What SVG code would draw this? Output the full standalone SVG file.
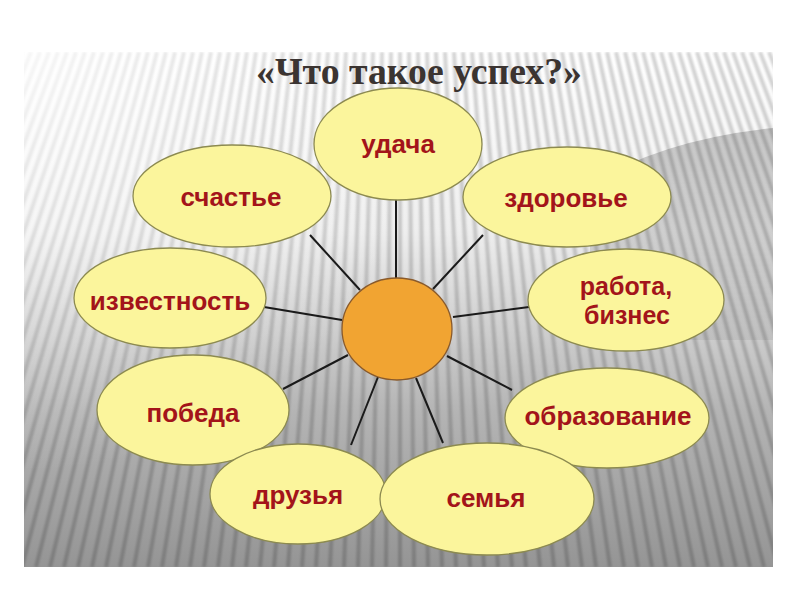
<svg xmlns="http://www.w3.org/2000/svg" width="800" height="600" viewBox="0 0 800 600">
  <defs>
    <style>
      .petal { fill: #FBF59C; stroke: #8C8A50; stroke-width: 1.3; }
      .lbl { font-family: "Liberation Sans", Arial, sans-serif; font-weight: bold; font-size: 26px; fill: #A3141A; text-anchor: middle; }
      .lbl2 { font-size: 25px; }
      .spoke { stroke: #1a1a1a; stroke-width: 2; fill: none; }
      .title { font-family: "Liberation Serif", "Times New Roman", serif; font-weight: bold; font-size: 37px; fill: #3b3431; text-anchor: middle; }
    </style>
    <linearGradient id="bg" x1="0" y1="0" x2="0" y2="1">
      <stop offset="0" stop-color="#ffffff"/>
      <stop offset="0.35" stop-color="#eeeeee"/>
      <stop offset="0.7" stop-color="#b4b4b4"/>
      <stop offset="1" stop-color="#959595"/>
    </linearGradient>
    <radialGradient id="fade" cx="24" cy="52" r="420" gradientUnits="userSpaceOnUse">
      <stop offset="0" stop-color="#ffffff" stop-opacity="0.8"/>
      <stop offset="0.6" stop-color="#ffffff" stop-opacity="0.25"/>
      <stop offset="1" stop-color="#ffffff" stop-opacity="0"/>
    </radialGradient>
    <linearGradient id="shade" x1="0" y1="0" x2="0" y2="1">
      <stop offset="0" stop-color="#000" stop-opacity="0.2"/>
      <stop offset="1" stop-color="#000" stop-opacity="0.06"/>
    </linearGradient>
    <clipPath id="frame"><rect x="24" y="52" width="749" height="515"/></clipPath>
    <filter id="soft" x="-5%" y="-5%" width="110%" height="110%"><feGaussianBlur stdDeviation="1"/></filter>
  </defs>

  <rect width="800" height="600" fill="#ffffff"/>
  <g id="background" clip-path="url(#frame)">
    <rect x="24" y="52" width="749" height="515" fill="url(#bg)"/>
    <path d="M590 340 L590 185 Q660 140 773 128 L773 340 Z" fill="url(#shade)"/>
    <path filter="url(#soft)" stroke="#000" stroke-opacity="0.17" stroke-width="4" fill="none" d="M22 52l-210 515M31 52l-205 515M40 52l-200 515M49 52l-195 515M58 52l-190 515M67 52l-185 515M76 52l-180 515M85 52l-175 515M94 52l-170 515M103 52l-165 515M112 52l-160 515M121 52l-155 515M130 52l-150 515M139 52l-145 515M148 52l-140 515M157 52l-135 515M166 52l-130 515M175 52l-125 515M184 52l-120 515M193 52l-115 515M202 52l-110 515M211 52l-105 515M220 52l-100 515M229 52l-95 515M238 52l-90 515M247 52l-85 515M256 52l-80 515M265 52l-75 515M274 52l-70 515M283 52l-65 515M292 52l-60 515M301 52l-55 515M310 52l-50 515M319 52l-45 515M328 52l-40 515M337 52l-35 515M346 52l-30 515M355 52l-25 515M364 52l-20 515M373 52l-15 515M382 52l-10 515M391 52l-5 515M400 52l0 515M409 52l5 515M418 52l10 515M427 52l15 515M436 52l20 515M445 52l25 515M454 52l30 515M463 52l35 515M472 52l40 515M481 52l45 515M490 52l50 515M499 52l55 515M508 52l60 515M517 52l65 515M526 52l70 515M535 52l75 515M544 52l80 515M553 52l85 515M562 52l90 515M571 52l95 515M580 52l100 515M589 52l105 515M598 52l110 515M607 52l115 515M616 52l120 515M625 52l125 515M634 52l130 515M643 52l135 515M652 52l140 515M661 52l145 515M670 52l150 515M679 52l155 515M688 52l160 515M697 52l165 515M706 52l170 515M715 52l175 515M724 52l180 515M733 52l185 515M742 52l190 515M751 52l195 515M760 52l200 515M769 52l205 515M778 52l210 515"/>
    <rect x="24" y="52" width="749" height="515" fill="url(#fade)"/>
  </g>

  <g id="connectors">
    <line class="spoke" x1="396" y1="279" x2="396" y2="198"/>
    <line class="spoke" x1="360" y1="290" x2="310" y2="235"/>
    <line class="spoke" x1="433" y1="289" x2="483" y2="235"/>
    <line class="spoke" x1="342" y1="320" x2="264" y2="307"/>
    <line class="spoke" x1="453" y1="317" x2="529" y2="307"/>
    <line class="spoke" x1="348" y1="355" x2="283" y2="389"/>
    <line class="spoke" x1="447" y1="356" x2="512" y2="390"/>
    <line class="spoke" x1="378" y1="377" x2="351" y2="445"/>
    <line class="spoke" x1="416" y1="378" x2="443" y2="443"/>
  </g>

  <g id="center">
    <ellipse cx="397" cy="329" rx="55" ry="51" fill="#F1A432" stroke="#8A5A2A" stroke-width="1.3"/>
  </g>

  <g id="node-udacha">
    <ellipse class="petal" cx="398" cy="144" rx="84" ry="56"/>
    <text class="lbl" x="398" y="153">удача</text>
  </g>
  <g id="node-schastie">
    <ellipse class="petal" cx="232" cy="196" rx="99" ry="51"/>
    <text class="lbl" x="231" y="206">счастье</text>
  </g>
  <g id="node-zdorovie">
    <ellipse class="petal" cx="567" cy="197" rx="104" ry="50"/>
    <text class="lbl" x="566" y="207">здоровье</text>
  </g>
  <g id="node-izvestnost">
    <ellipse class="petal" cx="170" cy="298" rx="96" ry="50"/>
    <text class="lbl" x="170" y="310">известность</text>
  </g>
  <g id="node-rabota">
    <ellipse class="petal" cx="626" cy="300" rx="98" ry="51"/>
    <text class="lbl lbl2" x="626" y="295">работа,</text>
    <text class="lbl lbl2" x="627" y="324">бизнес</text>
  </g>
  <g id="node-pobeda">
    <ellipse class="petal" cx="193" cy="410" rx="96" ry="55"/>
    <text class="lbl" x="193" y="422">победа</text>
  </g>
  <g id="node-obrazovanie">
    <ellipse class="petal" cx="607" cy="418" rx="102" ry="50"/>
    <text class="lbl" x="608" y="425">образование</text>
  </g>
  <g id="node-druzya">
    <ellipse class="petal" cx="298" cy="494" rx="88" ry="50"/>
    <text class="lbl" x="298" y="504">друзья</text>
  </g>
  <g id="node-semya">
    <ellipse class="petal" cx="487" cy="499" rx="107" ry="56"/>
    <text class="lbl" x="486" y="507">семья</text>
  </g>

  <g id="title">
    <text class="title" x="419" y="84" textLength="326" lengthAdjust="spacingAndGlyphs">«Что такое успех?»</text>
  </g>
</svg>
